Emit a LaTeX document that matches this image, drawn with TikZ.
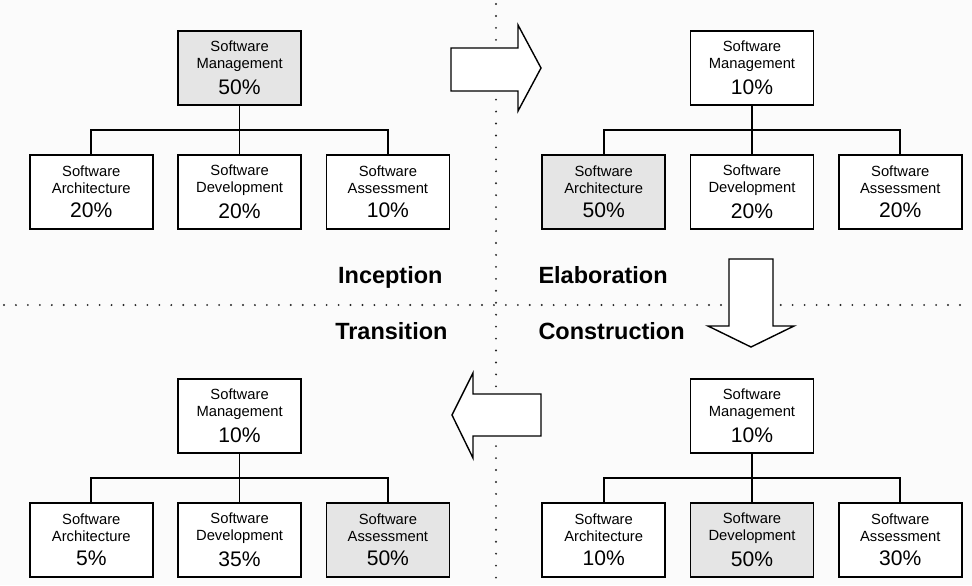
\documentclass[tikz,border=0pt]{standalone}
\usepackage{fontspec}
\setmainfont{Liberation Sans}
\usetikzlibrary{positioning}
\tikzset{
every picture/.style={
line width=1.2pt
}}
\newcommand{\pct}[1]{\\[5pt]{\fontsize{15}{17}\selectfont #1\%}}

\begin{document}
\begin{tikzpicture}[
unit/.style = {rectangle, draw=black, fill=white, align=center, minimum width=3.075cm, minimum height=1.85cm, inner sep=0pt, font=\fontsize{10.5}{12}\selectfont},
hot/.style = {unit, fill=black!10},
phase/.style = {font=\fontsize{16.7}{20}\selectfont\bfseries},
bigarrow/.style = {draw=black, fill=white, line width=1pt},
grid/.style = {black!85, line width=1.5pt, dash pattern=on 0pt off 8.5pt, line cap=round}]

\fill [black!1.5] (0,0) rectangle (24.3,-14.625);
\useasboundingbox (0,0) rectangle (24.3,-14.625);

% quadrant lines
\draw [grid] (0.1,-7.625) -- (24.2,-7.625);
\draw [grid] (12.4,-0.1) -- (12.4,-14.5);

% inception
\node [hot] (im) at (5.99,-1.7) {Software\\Management\pct{50}};
\node [unit, below=1.2cm of im] (id) {Software\\Development\pct{20}};
\node [unit, left=0.59cm of id] (ia) {Software\\Architecture\pct{20}};
\node [unit, right=0.59cm of id] (is) {Software\\Assessment\pct{10}};
\draw (im) -- (id);
\draw (ia.north) -- ++(0,0.6) -| (is.north);

% elaboration
\node [unit] (em) at (18.8,-1.7) {Software\\Management\pct{10}};
\node [unit, below=1.2cm of em] (ed) {Software\\Development\pct{20}};
\node [hot, left=0.59cm of ed] (ea) {Software\\Architecture\pct{50}};
\node [unit, right=0.59cm of ed] (es) {Software\\Assessment\pct{20}};
\draw (em) -- (ed);
\draw (ea.north) -- ++(0,0.6) -| (es.north);

% transition
\node [unit] (tm) at (5.99,-10.4) {Software\\Management\pct{10}};
\node [unit, below=1.2cm of tm] (td) {Software\\Development\pct{35}};
\node [unit, left=0.59cm of td] (ta) {Software\\Architecture\pct{5}};
\node [hot, right=0.59cm of td] (ts) {Software\\Assessment\pct{50}};
\draw (tm) -- (td);
\draw (ta.north) -- ++(0,0.6) -| (ts.north);

% construction
\node [unit] (cm) at (18.8,-10.4) {Software\\Management\pct{10}};
\node [hot, below=1.2cm of cm] (cd) {Software\\Development\pct{50}};
\node [unit, left=0.59cm of cd] (ca) {Software\\Architecture\pct{10}};
\node [unit, right=0.59cm of cd] (cs) {Software\\Assessment\pct{30}};
\draw (cm) -- (cd);
\draw (ca.north) -- ++(0,0.6) -| (cs.north);

% phase names
\node [phase, anchor=base east] (inc) at (11.2,-7.075) {Inception};
\node [phase, anchor=base west] (ela) at (13.325,-7.075) {Elaboration};
\node [phase, anchor=base east] (tra) at (11.325,-8.475) {Transition};
\node [phase, anchor=base west] (con) at (13.325,-8.475) {Construction};

% block arrows
\draw [bigarrow] (11.275,-1.2) -- (12.95,-1.2) -- (12.95,-0.625)
-- (13.525,-1.7) -- (12.95,-2.775) -- (12.95,-2.275) -- (11.275,-2.275) -- cycle;
\draw [bigarrow] (18.225,-6.475) -- (19.325,-6.475) -- (19.325,-8.15)
-- (19.85,-8.15) -- (18.775,-8.675) -- (17.7,-8.15) -- (18.225,-8.15) -- cycle;
\draw [bigarrow] (13.525,-9.85) -- (11.825,-9.85) -- (11.825,-9.325)
-- (11.3,-10.375) -- (11.825,-11.45) -- (11.825,-10.9) -- (13.525,-10.9) -- cycle;

\end{tikzpicture}
\end{document}
